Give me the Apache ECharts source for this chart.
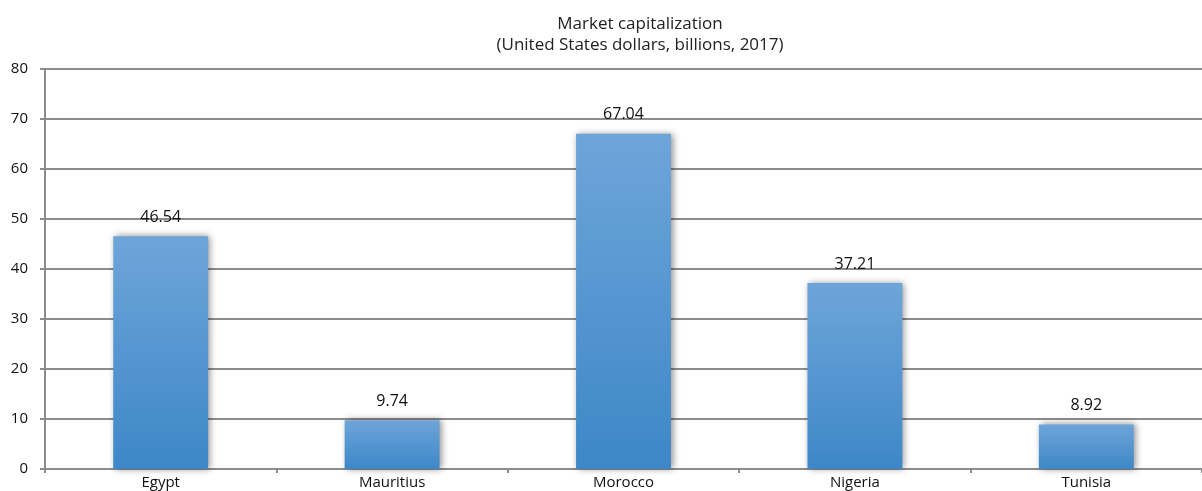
<!DOCTYPE html>
<html>
<head>
<meta charset="utf-8">
<script src="https://cdn.jsdelivr.net/npm/echarts@6/dist/echarts.min.js"></script>
<style>
  html, body { margin: 0; padding: 0; background: #ffffff; }
  #chart { width: 1202px; height: 491px; }
</style>
</head>
<body>
<div id="chart"></div>
<script>
// Market capitalization by country, USD billions, 2017
const countries = ['Egypt', 'Mauritius', 'Morocco', 'Nigeria', 'Tunisia'];
const marketCap = [46.54, 9.74, 67.04, 37.21, 8.92];
const yTicks = [0, 10, 20, 30, 40, 50, 60, 70, 80];

const chart = echarts.init(document.getElementById('chart'));
const font = "'Open Sans', sans-serif";
const gray = '#8c8c8c';

chart.setOption({
  animation: false,
  backgroundColor: '#ffffff',
  title: {
    text: 'Market capitalization\n(United States dollars, billions, 2017)',
    left: 635,
    top: 9,
    textAlign: 'center',
    textStyle: { fontFamily: font, fontSize: 17, fontWeight: 'normal', color: '#222', lineHeight: 21 }
  },
  grid: { left: 45, right: 0, top: 69, bottom: 22, containLabel: false },
  xAxis: {
    type: 'category',
    data: countries,
    axisLine: { lineStyle: { color: gray, width: 2 } },
    axisTick: { show: true, length: 4, lineStyle: { color: gray, width: 2 } },
    axisLabel: { fontFamily: font, fontSize: 15, color: '#111', margin: 6 }
  },
  yAxis: {
    type: 'value',
    min: yTicks[0],
    max: yTicks[yTicks.length - 1],
    interval: yTicks[1] - yTicks[0],
    axisLine: { show: true, lineStyle: { color: gray, width: 2 } },
    axisTick: { show: true, length: 5, lineStyle: { color: gray, width: 2 } },
    axisLabel: { fontFamily: font, fontSize: 15, color: '#111', margin: 17 },
    splitLine: { show: true, lineStyle: { color: gray, width: 2 } }
  },
  series: [{
    type: 'bar',
    data: marketCap,
    barWidth: '41%',
    itemStyle: {
      color: new echarts.graphic.LinearGradient(0, 0, 0, 1, [
        { offset: 0, color: '#6ea5d9' },
        { offset: 1, color: '#3d87c8' }
      ]),
      shadowColor: 'rgba(0,0,0,0.45)',
      shadowBlur: 7,
      shadowOffsetX: 2,
      shadowOffsetY: 0
    },
    label: {
      show: true,
      position: 'top',
      distance: 11,
      fontFamily: font,
      fontSize: 16,
      color: '#111',
      formatter: p => p.value.toFixed(2)
    }
  }]
});
</script>
</body>
</html>
